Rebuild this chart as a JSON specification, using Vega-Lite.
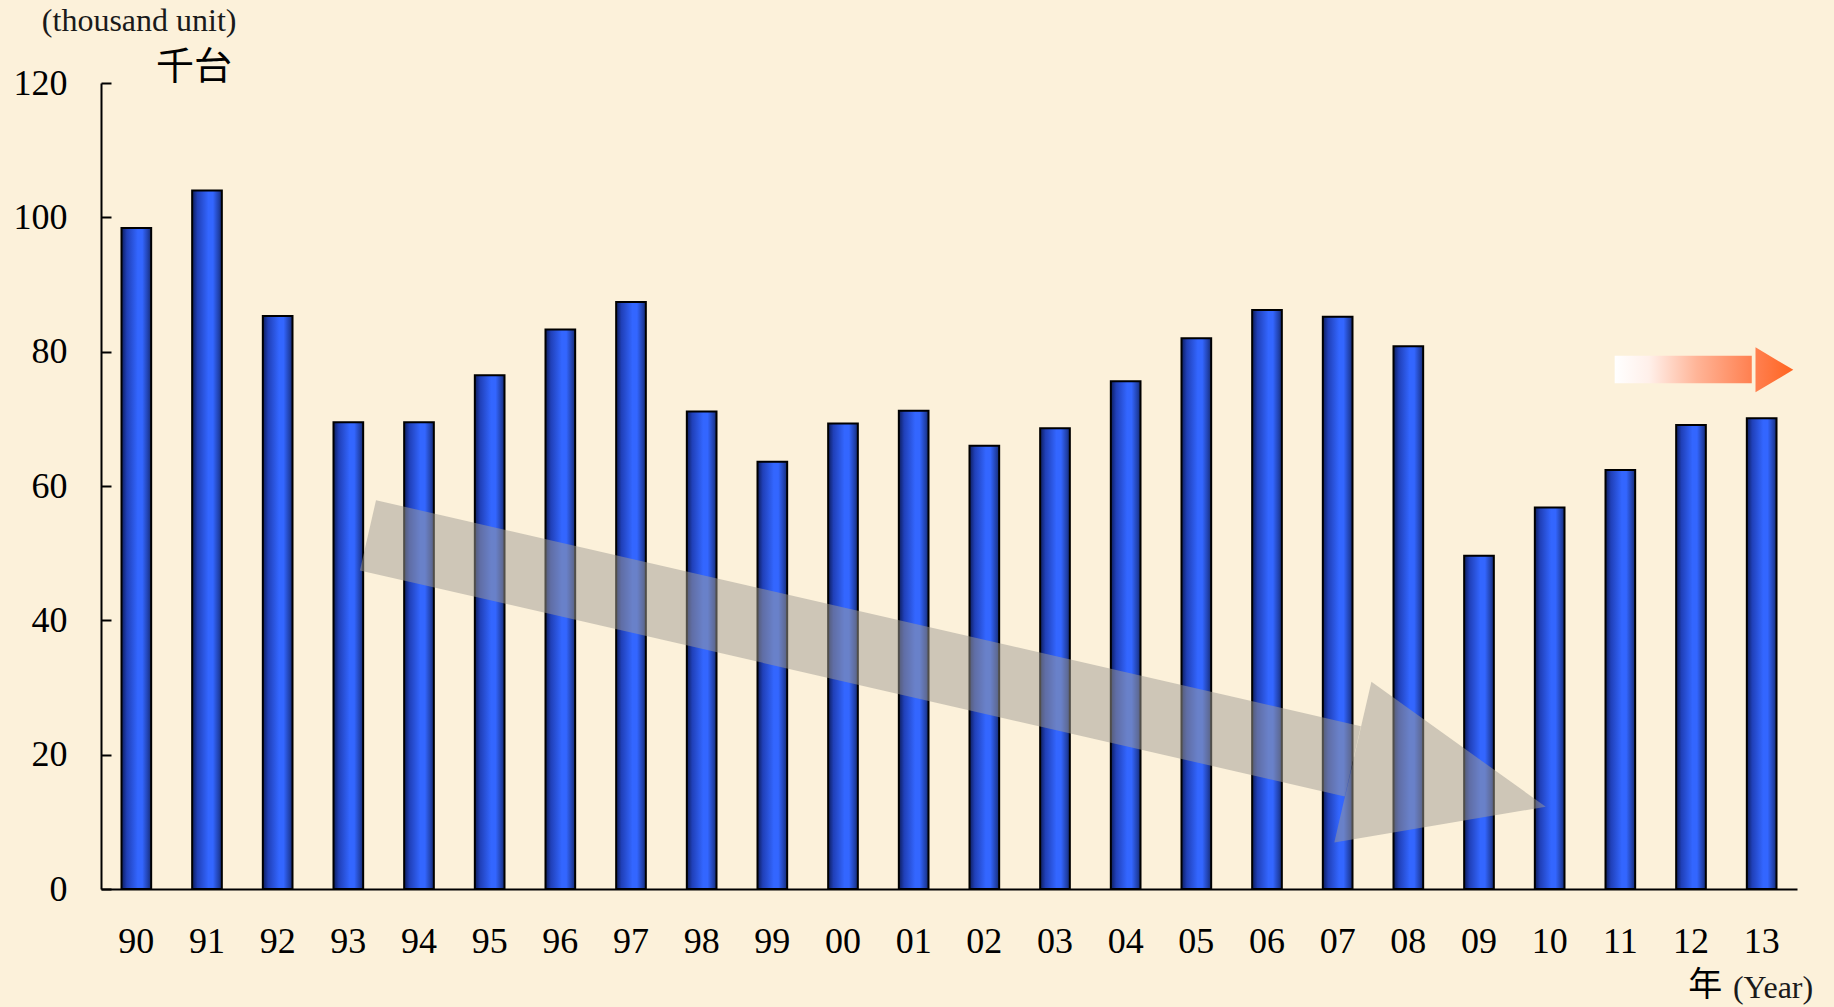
{
  "$schema": "https://vega.github.io/schema/vega-lite/v6.json",
  "width": 1696,
  "height": 806,
  "autosize": {"type": "none"},
  "padding": {"left": 101, "top": 83, "right": 37, "bottom": 118},
  "background": "#fcf1da",
  "config": {
    "view": {"stroke": null},
    "axis": {
      "domainColor": "#000000",
      "domainWidth": 2,
      "tickColor": "#000000",
      "tickWidth": 2,
      "labelFont": "Liberation Serif",
      "labelFontSize": 36,
      "labelColor": "#000000",
      "grid": false,
      "title": null
    }
  },
  "data": {
    "values": [
      {"year": "90", "value": 98.4},
      {"year": "91", "value": 104.0},
      {"year": "92", "value": 85.3},
      {"year": "93", "value": 69.5},
      {"year": "94", "value": 69.5},
      {"year": "95", "value": 76.5},
      {"year": "96", "value": 83.3},
      {"year": "97", "value": 87.4},
      {"year": "98", "value": 71.1},
      {"year": "99", "value": 63.6},
      {"year": "00", "value": 69.3},
      {"year": "01", "value": 71.2},
      {"year": "02", "value": 66.0},
      {"year": "03", "value": 68.6},
      {"year": "04", "value": 75.6},
      {"year": "05", "value": 82.0},
      {"year": "06", "value": 86.2},
      {"year": "07", "value": 85.2},
      {"year": "08", "value": 80.8},
      {"year": "09", "value": 49.6},
      {"year": "10", "value": 56.8},
      {"year": "11", "value": 62.4},
      {"year": "12", "value": 69.1},
      {"year": "13", "value": 70.1}
    ]
  },
  "layer": [
    {
      "mark": {
        "type": "bar",
        "stroke": "#000000",
        "strokeWidth": 2,
        "fill": {
          "gradient": "linear",
          "x1": 0, "y1": 0, "x2": 1, "y2": 0,
          "stops": [
            {"offset": 0, "color": "#0d1d5c"},
            {"offset": 0.18, "color": "#2040b8"},
            {"offset": 0.55, "color": "#3366ff"},
            {"offset": 0.7, "color": "#3366ff"},
            {"offset": 0.9, "color": "#2040a8"},
            {"offset": 1, "color": "#142a70"}
          ]
        }
      },
      "encoding": {
        "x": {
          "field": "year",
          "type": "nominal",
          "sort": null,
          "scale": {"paddingInner": 0.58, "paddingOuter": 0.29},
          "axis": {"ticks": false, "tickSize": 0, "labelPadding": 35, "labelAngle": 0, "orient": "bottom"}
        },
        "y": {
          "field": "value",
          "type": "quantitative",
          "title": null,
          "scale": {"domain": [0, 120], "nice": false},
          "axis": {"values": [0, 20, 40, 60, 80, 100, 120], "tickSize": -10, "labelPadding": 44}
        }
      }
    },
    {
      "layer": [
        {
          "data": {"values": [{}]},
          "mark": {"type": "rule", "strokeWidth": 72, "strokeCap": "butt", "color": "#a09c94", "opacity": 0.5},
          "encoding": {
            "x": {"datum": 3.778, "type": "quantitative", "scale": {"domain": [0, 24], "nice": false}, "axis": null},
            "x2": {"datum": 17.715},
            "y": {"datum": 52.66, "type": "quantitative", "title": null, "scale": {"domain": [0, 120], "nice": false}, "axis": {"values": [0, 20, 40, 60, 80, 100, 120], "tickSize": -10, "labelPadding": 44}},
            "y2": {"datum": 19.01}
          }
        },
        {
          "data": {"values": [{}]},
          "mark": {"type": "point", "shape": "M-1,-0.833L1,0L-1,0.833Z", "size": 39204, "angle": 13, "filled": true, "fill": "#a09c94", "opacity": 0.5, "strokeWidth": 0},
          "encoding": {
            "x": {"datum": 19.08, "type": "quantitative", "scale": {"domain": [0, 24], "nice": false}, "axis": null},
            "y": {"datum": 15.56, "type": "quantitative", "title": null, "scale": {"domain": [0, 120], "nice": false}, "axis": {"values": [0, 20, 40, 60, 80, 100, 120], "tickSize": -10, "labelPadding": 44}}
          }
        },
        {
          "data": {"values": [{}]},
          "mark": {
            "type": "rect",
            "fill": {
              "gradient": "linear",
              "x1": 0, "y1": 0, "x2": 1, "y2": 0,
              "stops": [
                {"offset": 0, "color": "#ffffff"},
                {"offset": 0.25, "color": "#fff0ea"},
                {"offset": 0.6, "color": "#ffb497"},
                {"offset": 1, "color": "#ff8050"}
              ]
            }
          },
          "encoding": {
            "x": {"datum": 21.42, "type": "quantitative", "scale": {"domain": [0, 24], "nice": false}, "axis": null},
            "x2": {"datum": 23.36},
            "y": {"datum": 75.3, "type": "quantitative", "title": null, "scale": {"domain": [0, 120], "nice": false}, "axis": {"values": [0, 20, 40, 60, 80, 100, 120], "tickSize": -10, "labelPadding": 44}},
            "y2": {"datum": 79.4}
          }
        },
        {
          "data": {"values": [{}]},
          "mark": {
            "type": "point", "shape": "M-0.84,-1L0.84,0L-0.84,1Z", "size": 2025, "filled": true, "strokeWidth": 0, "opacity": 1,
            "fill": {
              "gradient": "linear",
              "x1": 0, "y1": 0, "x2": 1, "y2": 0,
              "stops": [
                {"offset": 0, "color": "#ff8050"},
                {"offset": 1, "color": "#ff6420"}
              ]
            }
          },
          "encoding": {
            "x": {"datum": 23.68, "type": "quantitative", "scale": {"domain": [0, 24], "nice": false}, "axis": null},
            "y": {"datum": 77.3, "type": "quantitative", "title": null, "scale": {"domain": [0, 120], "nice": false}, "axis": {"values": [0, 20, 40, 60, 80, 100, 120], "tickSize": -10, "labelPadding": 44}}
          }
        },
        {
          "data": {"values": [{}]},
          "mark": {"type": "text", "text": "(thousand unit)", "font": "Liberation Serif", "fontSize": 32, "color": "#1a1a1a", "align": "center", "baseline": "middle"},
          "encoding": {
            "x": {"datum": 0.54, "type": "quantitative", "scale": {"domain": [0, 24], "nice": false}, "axis": null},
            "y": {"datum": 129.2, "type": "quantitative", "title": null, "scale": {"domain": [0, 120], "nice": false}, "axis": {"values": [0, 20, 40, 60, 80, 100, 120], "tickSize": -10, "labelPadding": 44}}
          }
        },
        {
          "data": {"values": [{}]},
          "mark": {"type": "text", "text": "千台", "font": "Noto Sans CJK JP", "fontSize": 38, "color": "#000000", "align": "center", "baseline": "middle"},
          "encoding": {
            "x": {"datum": 1.316, "type": "quantitative", "scale": {"domain": [0, 24], "nice": false}, "axis": null},
            "y": {"datum": 122.3, "type": "quantitative", "title": null, "scale": {"domain": [0, 120], "nice": false}, "axis": {"values": [0, 20, 40, 60, 80, 100, 120], "tickSize": -10, "labelPadding": 44}}
          }
        },
        {
          "data": {"values": [{}]},
          "mark": {"type": "text", "text": "年", "font": "Noto Sans CJK JP", "fontSize": 34, "color": "#000000", "align": "center", "baseline": "middle"},
          "encoding": {
            "x": {"datum": 22.7, "type": "quantitative", "scale": {"domain": [0, 24], "nice": false}, "axis": null},
            "y": {"datum": -14.5, "type": "quantitative", "title": null, "scale": {"domain": [0, 120], "nice": false}, "axis": {"values": [0, 20, 40, 60, 80, 100, 120], "tickSize": -10, "labelPadding": 44}}
          }
        },
        {
          "data": {"values": [{}]},
          "mark": {"type": "text", "text": "(Year)", "font": "Liberation Serif", "fontSize": 32, "color": "#1a1a1a", "align": "left", "baseline": "middle"},
          "encoding": {
            "x": {"datum": 23.093, "type": "quantitative", "scale": {"domain": [0, 24], "nice": false}, "axis": null},
            "y": {"datum": -14.74, "type": "quantitative", "title": null, "scale": {"domain": [0, 120], "nice": false}, "axis": {"values": [0, 20, 40, 60, 80, 100, 120], "tickSize": -10, "labelPadding": 44}}
          }
        }
      ]
    }
  ],
  "resolve": {"scale": {"x": "independent"}}
}
